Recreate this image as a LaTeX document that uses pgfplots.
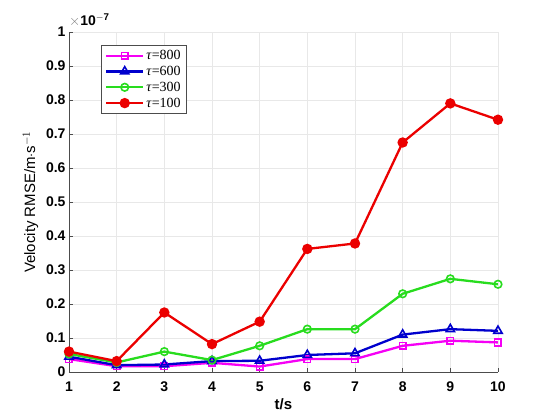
\documentclass[border=0pt]{standalone}
\usepackage{fontspec}
\setmainfont{Liberation Sans}
\newfontfamily\timesfont{Liberation Serif}
\usepackage{pgfplots}
\pgfplotsset{compat=1.18}
\definecolor{cmag}{RGB}{245,0,245}
\definecolor{cblue}{RGB}{0,0,205}
\definecolor{cgreen}{RGB}{40,220,30}
\definecolor{cred}{RGB}{235,0,0}
\begin{document}
\begin{tikzpicture}
\begin{axis}[
  scale only axis, width=429pt, height=340pt,
  xmin=1, xmax=10, ymin=0, ymax=1,
  xtick={1,2,3,4,5,6,7,8,9,10},
  ytick={0,0.1,0.2,0.3,0.4,0.5,0.6,0.7,0.8,0.9,1},
  yticklabels={0,0.1,0.2,0.3,0.4,0.5,0.6,0.7,0.8,0.9,1},
  axis x line*=bottom, axis y line*=left,
  axis line style={gray!60!black, line width=0.8pt},
  grid=major, major grid style={gray!18, line width=0.6pt},
  tick align=inside, major tick length=4pt,
  tick style={gray!60!black, line width=0.6pt},
  /pgf/number format/assume math mode=true,
  ticklabel style={font=\bfseries\fontsize{14}{16}\selectfont},
  xticklabel style={yshift=-6pt},
  xlabel={\bfseries t/s},
  ylabel={Velocity RMSE/m$\cdot$s$^{-1}$},
  label style={font=\fontsize{15}{17}\selectfont},
  xlabel style={yshift=0pt},
  ylabel style={yshift=1pt},
  every axis plot post/.append style={line width=2.3pt},
  legend style={at={(0.074,0.962)}, anchor=north west, draw=gray!60!black, line width=0.7pt,
    font=\timesfont\fontsize{14}{16}\selectfont, row sep=1pt, inner xsep=4pt, inner ysep=3pt},
  legend cell align=left,
  legend image code/.code={\draw[mark repeat=2,mark phase=2] plot coordinates {(0cm,0cm)(0.65cm,0cm)(1.3cm,0cm)};},
]
\addplot[color=cmag, mark=square, mark size=3.3pt, mark options={solid, line width=1.6pt}] coordinates {
(1,0.038)(2,0.017)(3,0.017)(4,0.027)(5,0.016)(6,0.038)(7,0.038)(8,0.077)(9,0.092)(10,0.087)};
\addlegendentry{\textit{τ}=800}
\addplot[color=cblue, mark=triangle, mark size=4.8pt, mark options={solid, line width=1.6pt}] coordinates {
(1,0.045)(2,0.020)(3,0.022)(4,0.032)(5,0.033)(6,0.050)(7,0.055)(8,0.110)(9,0.126)(10,0.121)};
\addlegendentry{\textit{τ}=600}
\addplot[color=cgreen, mark=o, mark size=3.8pt, mark options={solid, line width=1.6pt}] coordinates {
(1,0.053)(2,0.028)(3,0.060)(4,0.035)(5,0.077)(6,0.126)(7,0.126)(8,0.230)(9,0.274)(10,0.258)};
\addlegendentry{\textit{τ}=300}
\addplot[color=cred, mark=*, mark size=4pt, mark options={solid, fill=cred}] coordinates {
(1,0.060)(2,0.032)(3,0.175)(4,0.082)(5,0.148)(6,0.362)(7,0.378)(8,0.675)(9,0.790)(10,0.742)};
\addlegendentry{\textit{τ}=100}
\end{axis}
\node[anchor=south west, inner sep=0pt, font=\fontsize{14}{16}\selectfont] at (0pt,345pt) {{\color{gray}$\times$}\bfseries 10$^{\mathbf{-7}}$};
\useasboundingbox (-69pt,-45pt) rectangle (481pt,372pt);
\end{tikzpicture}
\end{document}
